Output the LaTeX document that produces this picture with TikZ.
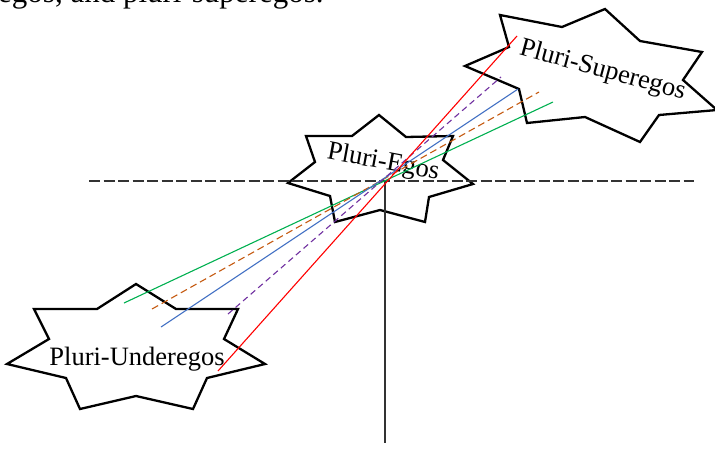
\documentclass[tikz,border=0pt]{standalone}
\usepackage{fontspec}
\setmainfont{Liberation Serif}
\usepackage{xcolor}
\definecolor{cgreen}{HTML}{00B050}
\definecolor{corange}{HTML}{C55A11}
\definecolor{cblue}{HTML}{4472C4}
\definecolor{cpurple}{HTML}{7030A0}
\definecolor{cred}{HTML}{FF0000}
\definecolor{axisgray}{HTML}{333333}
\begin{document}
\begin{tikzpicture}[x=1pt,y=-1pt,
  starshape/.style={draw=black, line width=2.3pt, line join=miter},
  starlabel/.style={font=\fontsize{26.5}{31}\selectfont, inner sep=0pt},
  axisline/.style={draw=axisgray, line width=1.2pt},
  plotline/.style={line width=1.1pt},
  plotdash/.style={line width=1.1pt, dash pattern=on 7pt off 4pt}]
\useasboundingbox (0,0) rectangle (715,448);
% cut-off text line at the top
\node[anchor=base west, inner sep=0pt, font=\fontsize{31}{36}\selectfont] (toptext) at (-2,2) {egos, and pluri-superegos.};
% stars
\draw[starshape] (379,115) -- (406,137) -- (453,136) -- (443,160) -- (473,184) -- (429,197) -- (425,222) -- (380,210) -- (335,222) -- (330,196) -- (288,183) -- (315,162) -- (306,136) -- (352,136) -- cycle;
\draw[starshape] (500,15) -- (562,27) -- (605,9) -- (640,41) -- (702,52) -- (683,80) -- (717,110) -- (659,115) -- (640,142) -- (585,117) -- (527,123) -- (519,89) -- (465,66) -- (509,47) -- cycle;
\draw[starshape] (136,284) -- (176,309) -- (238,309) -- (224,339) -- (265,364) -- (207,378) -- (193,409) -- (136,396) -- (80,409) -- (66,378) -- (7,364) -- (49,339) -- (34,309) -- (97,309) -- cycle;
% labels
\node[starlabel, anchor=base, rotate=-10.5] (egos) at (382,169) {Pluri-Egos};
\node[starlabel, anchor=base, rotate=-15.3] (superegos) at (601,77) {Pluri-Superegos};
\node[starlabel, anchor=base] (underegos) at (137,365) {Pluri-Underegos};
% axes
\coordinate (hl) at (89,181);
\coordinate (hr) at (694,181);
\coordinate (o) at (385,181);
\coordinate (vb) at (385,443);
\draw[axisline, dash pattern=on 11pt off 3.5pt] (hl) -- (hr);
\draw[axisline] (o) -- (vb);
% lines
\coordinate (g1) at (124,303); \coordinate (g2) at (553,102);
\coordinate (o1) at (152,309); \coordinate (o2) at (539,92);
\coordinate (b1) at (161,327); \coordinate (b2) at (518,89);
\coordinate (p1) at (228,314); \coordinate (p2) at (501,77);
\coordinate (r1) at (218,371); \coordinate (r2) at (517,36);
\draw[plotline, cgreen] (g1) -- (g2);
\draw[plotdash, corange] (o1) -- (o2);
\draw[plotline, cblue] (b1) -- (b2);
\draw[plotdash, cpurple, dash pattern=on 6pt off 4pt] (p1) -- (p2);
\draw[plotline, cred] (r1) -- (r2);
\end{tikzpicture}
\end{document}
